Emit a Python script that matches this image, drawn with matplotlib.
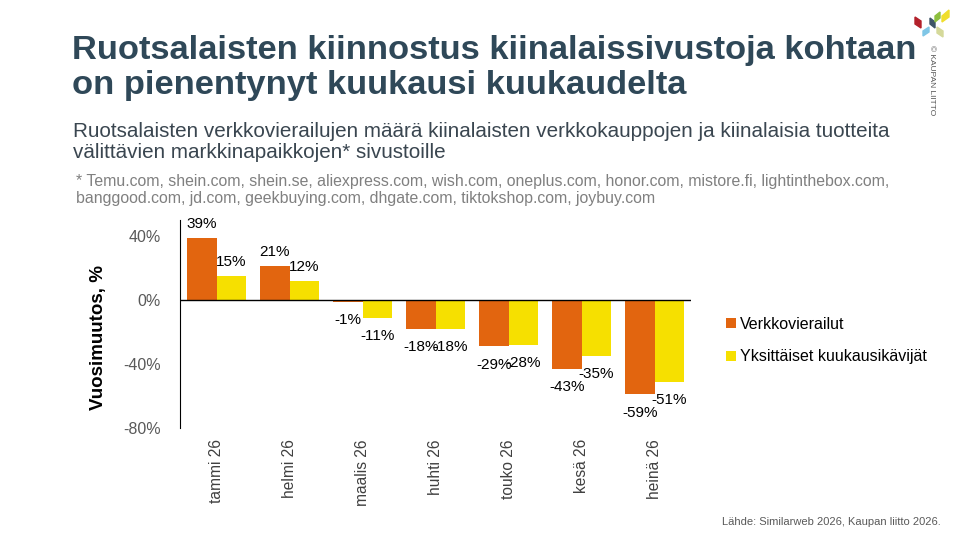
import matplotlib.pyplot as plt
import numpy as np
from matplotlib.patches import Polygon

plt.rcParams["font.family"] = ["Liberation Sans", "DejaVu Sans"]

# data
months = ["tammi 26", "helmi 26", "maalis 26", "huhti 26", "touko 26", "kesä 26", "heinä 26"]
visits = [39, 21, -1, -18, -29, -43, -59]
unique_visitors = [15, 12, -11, -18, -28, -35, -51]
series_names = ["Verkkovierailut", "Yksittäiset kuukausikävijät"]
yticks = [-80, -40, 0, 40]

orange = "#E2650F"
yellow = "#F6E000"

fig = plt.figure(figsize=(9.6, 5.4), dpi=100)
ax = fig.add_axes([0.1875, 0.2074, 0.5325, 0.3852])

x = np.arange(len(months))
w = 0.4
b1 = ax.bar(x - w / 2, visits, w, color=orange, label=series_names[0])
b2 = ax.bar(x + w / 2, unique_visitors, w, color=yellow, label=series_names[1])

for bars, vals in [(b1, visits), (b2, unique_visitors)]:
    for rect, v in zip(bars, vals):
        cx = rect.get_x() + rect.get_width() / 2
        if v >= 0:
            ax.annotate(f"{v}%", (cx, v), xytext=(0, 5), textcoords="offset points",
                        ha="center", va="bottom", fontsize=11, color="black")
        else:
            ax.annotate(f"{v}%", (cx, v), xytext=(0, -8), textcoords="offset points",
                        ha="center", va="top", fontsize=11, color="black")

ax.axhline(0, color="black", lw=1)
ax.set_xlim(-0.5, len(months) - 0.5)
ax.set_ylim(-80, 50)
ax.set_yticks(yticks)
ax.set_yticklabels([f"{t}%" for t in yticks], color="#595959", fontsize=11.5)
ax.set_xticks(x)
ax.set_xticklabels(months, rotation=90, color="#404040", fontsize=11.2)
ax.tick_params(axis="both", length=0)
ax.tick_params(axis="y", pad=14)
ax.tick_params(axis="x", pad=8)
for s in ["top", "right", "bottom"]:
    ax.spines[s].set_visible(False)
ax.spines["left"].set_color("black")
ax.set_ylabel("Vuosimuutos, %", fontsize=13.5, fontweight="bold")
ax.yaxis.set_label_coords(-0.1425, 0.4375)

ax.legend(loc="center left", bbox_to_anchor=(1.04, 0.42), frameon=False,
          fontsize=11.5, handlelength=0.6, handleheight=0.6, handletextpad=0.3,
          labelspacing=1.1)

# texts
title_col = "#2F4858"
fig.text(0.075, 0.874, "Ruotsalaisten kiinnostus kiinalaissivustoja kohtaan\non pienentynyt kuukausi kuukaudelta",
         fontsize=24.8, fontweight="bold", color=title_col, va="center", linespacing=1.2)
fig.text(0.076, 0.737, "Ruotsalaisten verkkovierailujen määrä kiinalaisten verkkokauppojen ja kiinalaisia tuotteita\nvälittävien markkinapaikkojen* sivustoille",
         fontsize=14.9, color="#3A4650", va="center", linespacing=1.15)
fig.text(0.079, 0.648, "* Temu.com, shein.com, shein.se, aliexpress.com, wish.com, oneplus.com, honor.com, mistore.fi, lightinthebox.com,\nbanggood.com, jd.com, geekbuying.com, dhgate.com, tiktokshop.com, joybuy.com",
         fontsize=11.4, color="#808080", va="center", linespacing=1.15)
fig.text(0.98, 0.033, "Lähde: Similarweb 2026, Kaupan liitto 2026.", fontsize=8,
         color="#595959", ha="right", va="center")

# logo
def para(pts, color):
    fig.patches.append(Polygon([(px / 960, 1 - py / 540) for px, py in pts],
                               closed=True, transform=fig.transFigure, color=color))

para([(915, 17), (921, 21), (921, 28), (915, 24)], "#B3212B")
para([(923, 31), (929, 27), (929, 32), (923, 36)], "#7FC6E6")
para([(930, 18), (935, 22), (935, 28), (930, 24)], "#3E5566")
para([(935, 16), (940, 12), (940, 18), (935, 22)], "#8DBF3F")
para([(942, 16), (949, 10), (949, 17), (942, 22)], "#F0DE2C")
para([(937, 27), (943, 31), (943, 37), (937, 33)], "#D5D99A")
fig.text(0.970, 0.917, "© KAUPAN LIITTO", rotation=-90, fontsize=6, color="#555555",
         ha="center", va="top")

fig.savefig("out.png", dpi=100)
